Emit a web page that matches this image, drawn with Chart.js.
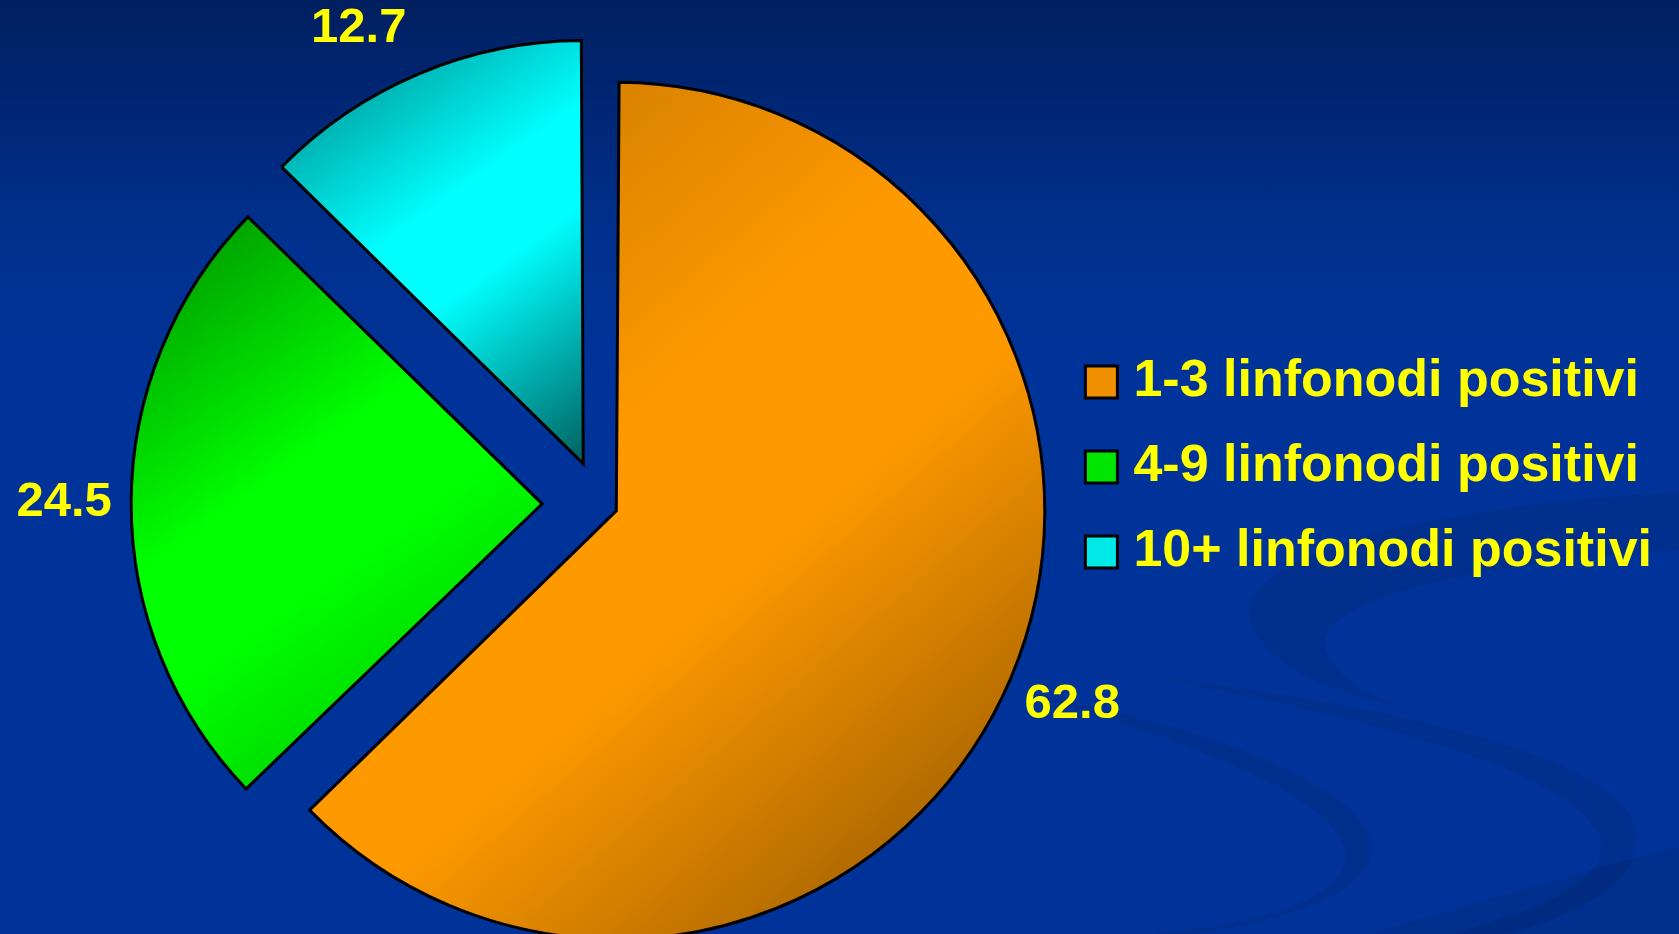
<!DOCTYPE html>
<html>
<head>
<meta charset="utf-8">
<title>Linfonodi positivi</title>
<script src="https://cdn.jsdelivr.net/npm/chart.js@4.4.0/dist/chart.umd.min.js"></script>
<style>
  html, body {
    margin: 0;
    padding: 0;
    width: 1679px;
    height: 934px;
    overflow: hidden;
  }
  body {
    background:
      url("data:image/svg+xml;utf8,<svg xmlns='http://www.w3.org/2000/svg' width='1679' height='934' viewBox='0 0 1679 934'><g fill='black' fill-opacity='0.08'><path d='M1250,605 C1270,545 1450,505 1679,492 L1679,550 C1480,562 1310,600 1326,650 C1336,680 1380,700 1400,706 C1320,692 1240,652 1250,605 Z'/><path d='M1000,688 C1150,728 1330,790 1345,850 C1355,900 1250,925 1150,934 L1195,934 C1290,920 1382,890 1370,840 C1355,778 1180,718 1000,688 Z'/><path d='M1150,676 C1350,716 1580,768 1600,840 C1612,890 1500,920 1450,934 L1505,934 C1600,910 1652,870 1632,818 C1600,756 1400,706 1150,676 Z'/><path d='M1370,934 C1480,900 1600,868 1679,846 L1679,934 Z'/></g></svg>") no-repeat,
      linear-gradient(180deg, #001f5f 0%, #00287a 14%, #00318f 26%, #003399 40%, #003399 100%);
  }
  #grafico { display: block; }
</style>
</head>
<body>
<canvas id="grafico" width="1679" height="934"></canvas>
<script>
// dati del grafico
const categorie = ['1-3 linfonodi positivi', '4-9 linfonodi positivi', '10+ linfonodi positivi'];
const valori = [62.8, 24.5, 12.7];
const etichette = ['62.8', '24.5', '12.7'];

// colori: [scuro, chiaro, scuro] per il gradiente di ogni fetta
const coloriFetta = [
  ['#c07400', '#ff9900', '#8c5400'],
  ['#008a00', '#00ff00', '#00b400'],
  ['#008585', '#00ffff', '#005f5f']
];
const coloriLegenda = ['#f09000', '#00e600', '#00e8e8'];

const RAGGIO = 411;
// stacco delle fette (esploso)
const STACCO = [70, 232, 174];

const fontBase = "'Liberation Sans', Arial, Helvetica, sans-serif";

function riempiFetta(c) {
  const chart = c.chart;
  const area = chart.chartArea;
  const i = c.dataIndex;
  if (!area) return coloriFetta[i][1];
  const cx = (area.left + area.right) / 2;
  const cy = (area.top + area.bottom) / 2;
  const totale = valori.reduce((a, b) => a + b, 0);
  let prima = 0;
  for (let k = 0; k < i; k++) prima += valori[k];
  const a0 = -Math.PI / 2 + 2 * Math.PI * prima / totale;
  const a1 = a0 + 2 * Math.PI * valori[i] / totale;
  const punti = [[cx, cy],
    [cx + RAGGIO * Math.cos(a0), cy + RAGGIO * Math.sin(a0)],
    [cx + RAGGIO * Math.cos(a1), cy + RAGGIO * Math.sin(a1)]];
  for (let k = -1; k <= 4; k++) {
    const a = k * Math.PI / 2;
    if (a > a0 && a < a1) punti.push([cx + RAGGIO * Math.cos(a), cy + RAGGIO * Math.sin(a)]);
  }
  const xs = punti.map(p => p[0]), ys = punti.map(p => p[1]);
  const g = chart.ctx.createLinearGradient(Math.min(...xs), Math.min(...ys), Math.max(...xs), Math.max(...ys));
  const col = coloriFetta[i];
  g.addColorStop(0, col[0]);
  g.addColorStop(0.42, col[1]);
  g.addColorStop(0.58, col[1]);
  g.addColorStop(1, col[2]);
  return g;
}

// etichette dei valori fuori dalle fette
const etichetteValori = {
  id: 'etichetteValori',
  afterDatasetsDraw(chart) {
    const meta = chart.getDatasetMeta(0);
    const ctx = chart.ctx;
    ctx.save();
    ctx.font = 'bold 49px ' + fontBase;
    ctx.fillStyle = '#ffff00';
    ctx.textAlign = 'center';
    ctx.textBaseline = 'middle';
    meta.data.forEach((arco, i) => {
      const medio = (arco.startAngle + arco.endAngle) / 2;
      const t = (arco.options.offset || 0) / 4;
      const fix = 1 - Math.sin(Math.min(Math.PI, arco.circumference));
      const cx = arco.x + Math.cos(medio) * t;
      const cy = arco.y + Math.sin(medio) * t;
      const d = arco.outerRadius + t * fix + 67;
      let x = cx + Math.cos(medio) * d;
      let y = cy + Math.sin(medio) * d;
      // se esce dal bordo alto, scorre lungo il cerchio
      const minY = 28;
      if (y < minY) {
        y = minY;
        const dx = Math.sqrt(Math.max(d * d - (y - cy) * (y - cy), 0));
        x = cx + Math.sign(Math.cos(medio)) * dx;
      }
      ctx.fillText(etichette[i], x, y);
    });
    ctx.restore();
  }
};

new Chart(document.getElementById('grafico'), {
  type: 'pie',
  data: {
    labels: categorie,
    datasets: [{
      data: valori,
      backgroundColor: riempiFetta,
      borderColor: '#000000',
      borderWidth: 3,
      borderJoinStyle: 'miter',
      offset: STACCO,
      clip: false
    }]
  },
  options: {
    responsive: false,
    animation: false,
    events: [],
    radius: RAGGIO,
    layout: { padding: { left: 138, right: 17, top: 0, bottom: 0 } },
    plugins: {
      title: {
        display: true,
        text: '',
        padding: { top: 62, bottom: 0 },
        font: { size: 10 }
      },
      tooltip: { enabled: false },
      legend: {
        position: 'right',
        labels: {
          color: '#ffff00',
          font: { family: fontBase, size: 52, weight: 'bold' },
          usePointStyle: true,
          boxWidth: 12,
          boxHeight: 32,
          padding: 33,
          generateLabels: () => categorie.map((nome, i) => ({
            text: nome,
            fillStyle: coloriLegenda[i],
            strokeStyle: '#000000',
            lineWidth: 3,
            pointStyle: 'rect',
            rotation: 0,
            fontColor: '#ffff00',
            hidden: false,
            index: i
          }))
        }
      }
    }
  },
  plugins: [etichetteValori]
});
</script>
</body>
</html>
